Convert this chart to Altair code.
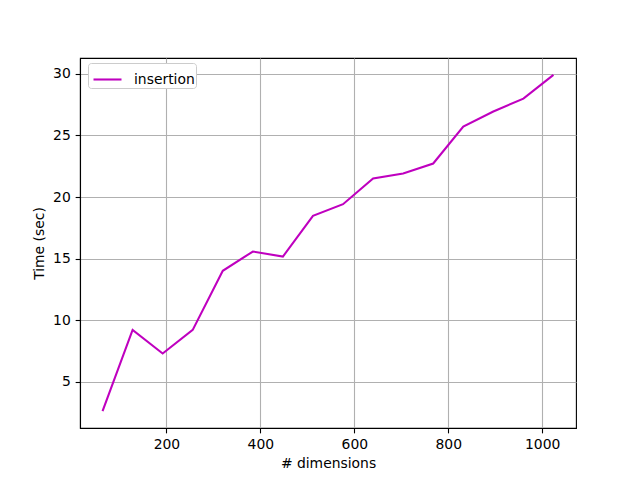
import altair as alt
import pandas as pd

dims = [64, 128, 192, 256, 320, 384, 448, 512, 576, 640, 704, 768, 832, 896, 960, 1024]
times = [2.62, 9.22, 7.30, 9.22, 14.01, 15.58, 15.17, 18.47, 19.42, 21.50, 21.91, 22.72, 25.72, 26.94, 27.99, 29.92]
series = ["insertion"] * len(dims)

df = pd.DataFrame({"dims": dims, "time": times, "series": series})

FONT = "DejaVu Sans"
FS = 13.9

chart = alt.Chart(df).mark_line(strokeWidth=2.08).encode(
    x=alt.X("dims:Q", title="# dimensions",
            scale=alt.Scale(domain=[16, 1072], nice=False, zero=False),
            axis=alt.Axis(values=[200, 400, 600, 800, 1000], format="d")),
    y=alt.Y("time:Q", title="Time (sec)",
            scale=alt.Scale(domain=[1.255, 31.285], nice=False, zero=False),
            axis=alt.Axis(values=[5, 10, 15, 20, 25, 30], format="d")),
    color=alt.Color("series:N", scale=alt.Scale(range=["#bf00bf"]),
                    legend=alt.Legend(title=None, orient="none", legendX=8, legendY=5,
                                      symbolType="stroke", symbolSize=784, symbolStrokeWidth=2.08,
                                      symbolOffset=3,
                                      fillColor="white", strokeColor="#cccccc", cornerRadius=3,
                                      padding=1, labelFontSize=FS, labelFont=FONT, labelColor="black",
                                      labelOffset=11)),
).properties(
    width=496, height=370,
    autosize=alt.AutoSizeParams(type="none"),
    padding={"left": 72, "top": 50, "right": 56, "bottom": 45},
).configure_view(
    stroke="black", strokeWidth=1.1
).configure_axis(
    domainColor="black", domainWidth=1.1, tickColor="black", tickSize=4.86, tickWidth=1.1,
    labelFont=FONT, labelFontSize=FS, labelColor="black", labelPadding=4.86,
    titleFont=FONT, titleFontSize=FS, titleFontWeight="normal", titleColor="black",
    grid=True, gridColor="#b0b0b0", gridWidth=1.1,
).configure_axisX(titlePadding=5).configure_axisY(titlePadding=6)

chart.save("out.html", embed_options={"renderer": "svg", "actions": False})
